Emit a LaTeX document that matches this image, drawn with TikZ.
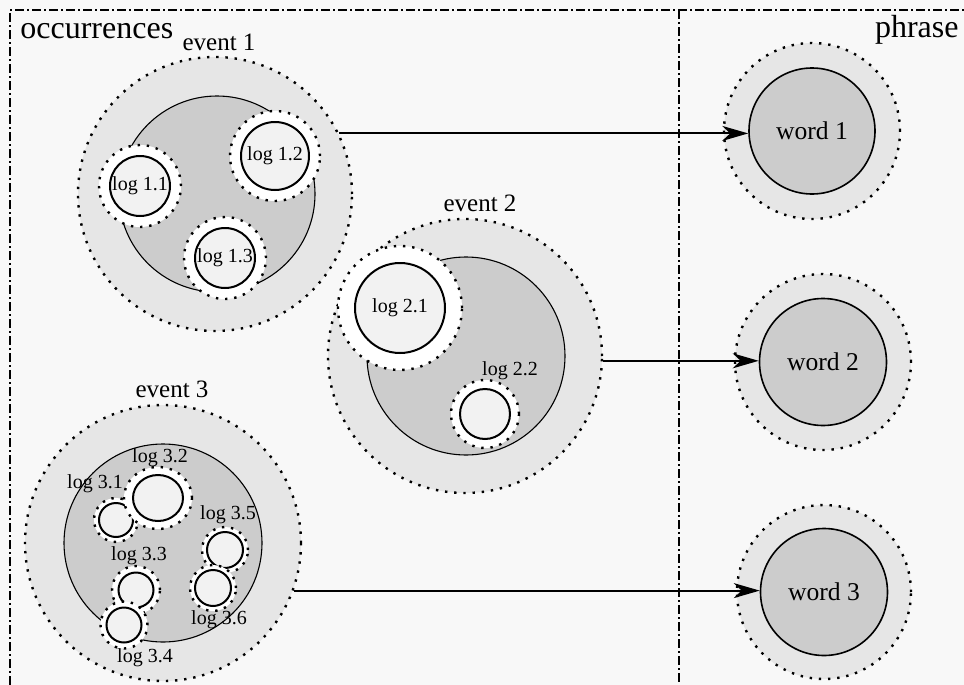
\documentclass[tikz,border=0pt]{standalone}
\usepackage{fontspec}
\setmainfont{Liberation Serif}
\usetikzlibrary{arrows.meta,shapes.geometric}

\definecolor{panelfill}{HTML}{F8F8F8}
\definecolor{halofill}{HTML}{E6E6E6}
\definecolor{corefill}{HTML}{CCCCCC}
\definecolor{logfill}{HTML}{F2F2F2}

% sizes are radii in drawing units (1 unit = 0.5pt), so minimum size=#1pt is the diameter
\tikzset{
  dotline/.style={draw=black, line width=1.2pt, dash pattern=on 1.2pt off 3.4pt},
  halo/.style={circle, inner sep=0pt, minimum size=#1pt, fill=halofill, dotline},
  evcore/.style={circle, inner sep=0pt, minimum size=#1pt, fill=corefill, draw=black, line width=0.55pt},
  logring/.style={circle, inner sep=0pt, minimum size=#1pt, fill=white, dotline},
  logcore/.style={circle, inner sep=0pt, minimum size=#1pt, fill=logfill, draw=black, line width=1pt,
                  font=\fontsize{10}{12}\selectfont},
  wordcore/.style={circle, inner sep=0pt, minimum size=#1pt, fill=corefill, draw=black, line width=0.8pt,
                   font=\fontsize{12.8}{15}\selectfont},
  loglabel/.style={inner sep=0pt, font=\fontsize{10}{12}\selectfont},
  evlabel/.style={inner sep=0pt, anchor=base, font=\fontsize{12.5}{15}\selectfont},
  panellabel/.style={inner sep=0pt, font=\fontsize{16}{19}\selectfont},
  frameline/.style={draw=black, line width=1pt, dash pattern=on 4.5pt off 1.5pt on 1pt off 1.5pt},
  link/.style={draw=black, line width=1pt, -{Stealth[length=13pt, width=7.5pt, inset=4pt]}},
}

\begin{document}
\begin{tikzpicture}[x=0.5pt, y=-0.5pt]
  \fill[panelfill] (0,0) rectangle (964,685);
  \useasboundingbox (0,0) rectangle (964,685);

  % panel frame
  \draw[frameline] (10,685) -- (10,10) -- (964,10);
  \draw[frameline] (679,10) -- (679,685);

  \node[panellabel, anchor=base west] (occ) at (20,39) {occurrences};
  \node[panellabel, anchor=base east] (phr) at (959,38) {phrase};

  % event 1
  \node[halo=137] (e1out) at (215,194) {};
  \node[evcore=98] (e1in) at (217,194) {};
  \node[logring=41] (l11out) at (140,186) {};
  \node[logcore=30] (l11) at (140,186) {log 1.1};
  \node[logring=45] (l12out) at (275,156) {};
  \node[logcore=34] (l12) at (275,156) {log 1.2};
  \node[logring=41] (l13out) at (225,258) {};
  \node[logcore=30] (l13) at (225,258) {log 1.3};
  \node[evlabel] (e1lab) at (219,50) {event 1};

  % event 2
  \node[halo=137] (e2out) at (465,356) {};
  \node[evcore=99] (e2in) at (466,356) {};
  \node[logring=62] (l21out) at (400,308) {};
  \node[logcore=45] (l21) at (400,308) {log 2.1};
  \node[logring=34] (l22out) at (485,414) {};
  \node[logcore=25] (l22) at (485,414) {};
  \node[loglabel] (l22lab) at (510,371) {log 2.2};
  \node[evlabel] (e2lab) at (480,211) {event 2};

  % event 3
  \node[halo=138] (e3out) at (163,543) {};
  \node[evcore=99] (e3in) at (163,543) {};
  \node[logring=22] (l31out) at (116,520) {};
  \node[logcore=17] (l31) at (116,520) {};
  \node[ellipse, inner sep=0pt, minimum width=34pt, minimum height=31pt, fill=white, dotline] (l32out) at (158,498) {};
  \node[ellipse, inner sep=0pt, minimum width=25pt, minimum height=23pt, fill=logfill, draw=black, line width=1pt] (l32) at (158,498) {};
  \node[logring=24] (l33out) at (136,590) {};
  \node[logcore=17.5] (l33) at (136,590) {};
  \node[logring=23.5] (l34out) at (124,625) {};
  \node[logcore=17.5] (l34) at (124,625) {};
  \node[logring=23] (l35out) at (225,550) {};
  \node[logcore=18] (l35) at (225,550) {};
  \node[logring=23] (l36out) at (213,588) {};
  \node[logcore=18] (l36) at (213,588) {};
  \node[loglabel] (l31lab) at (95,484) {log 3.1};
  \node[loglabel] (l32lab) at (160,458) {log 3.2};
  \node[loglabel] (l33lab) at (139,556) {log 3.3};
  \node[loglabel] (l34lab) at (145,658) {log 3.4};
  \node[loglabel] (l35lab) at (228,515) {log 3.5};
  \node[loglabel] (l36lab) at (219,620) {log 3.6};
  \node[evlabel] (e3lab) at (172,397) {event 3};

  % phrase words
  \node[halo=88] (w1out) at (812,131) {};
  \node[wordcore=63] (w1in) at (812,131) {word 1};
  \node[halo=88] (w2out) at (823,362) {};
  \node[wordcore=63.5] (w2in) at (823,362) {word 2};
  \node[halo=87] (w3out) at (824,592) {};
  \node[wordcore=63.5] (w3in) at (824,592) {word 3};

  % event-to-word links
  \draw[link] (e1out.26) -- (e1out.26 -| w1in.west);
  \draw[link] (e2out.-2) -- (e2out.-2 -| w2in.west);
  \draw[link] (e3out.-20) -- (e3out.-20 -| w3in.west);
\end{tikzpicture}
\end{document}
